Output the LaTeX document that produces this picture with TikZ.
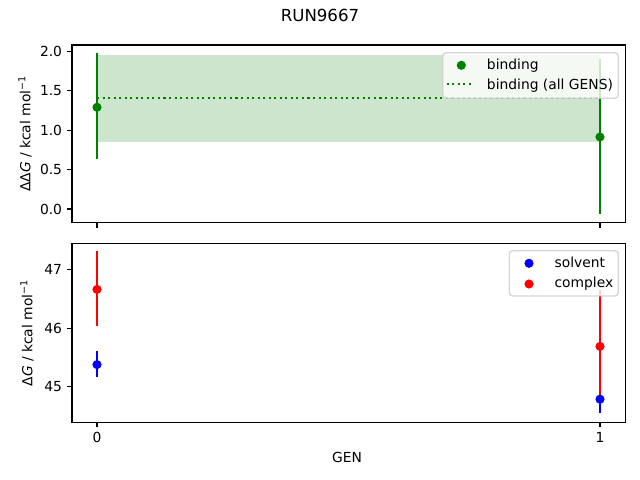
\documentclass[tikz,border=0pt]{standalone}
\usepackage{fontspec}
\setmainfont{DejaVu Sans}
\definecolor{mgreen}{HTML}{008000}
\definecolor{mblue}{HTML}{0000FF}
\definecolor{mred}{HTML}{FF0000}
\definecolor{legedge}{HTML}{CCCCCC}
\tikzset{
  spine/.style={line width=0.8pt, black},
  tickmark/.style={line width=0.8pt, black},
  ebar/.style={line width=1.5pt},
  dotmark/.style={circle, inner sep=0pt, minimum size=6.6pt, draw=none},
  ticklab/.style={inner sep=0pt},
  legframe/.style={rounded corners=2.5pt, fill=white, fill opacity=0.8, draw=legedge, draw opacity=0.8, line width=1pt},
  legtext/.style={anchor=base west, inner sep=0pt},
  dotline/.style={mgreen, line width=1.5pt, dash pattern=on 1.5pt off 2.5pt}
}
\begin{document}
\begin{tikzpicture}[x=0.01in,y=-0.01in, every node/.style={font=\fontsize{10}{12}\selectfont, text=black}]
\useasboundingbox (0,0) rectangle (640,480);
\fill[white] (0,0) rectangle (640,480);

% title
\node[anchor=base, inner sep=0pt, font=\fontsize{12}{14}\selectfont] (title) at (320,22) {RUN9667};

% ===== top panel =====
\fill[mgreen, opacity=0.2] (97,55) rectangle (600,141.7);
\coordinate (avgL) at (97,98);
\coordinate (avgR) at (600,98);
\draw[dotline] (avgL) -- (avgR);
\coordinate (g0t) at (97,53.3);
\coordinate (g0b) at (97,159.3);
\coordinate (g1t) at (600,59.3);
\coordinate (g1b) at (600,214);
\draw[ebar, mgreen] (g0t) -- (g0b);
\draw[ebar, mgreen] (g1t) -- (g1b);
\node[dotmark, fill=mgreen] (g0) at (97,107.3) {};
\node[dotmark, fill=mgreen] (g1) at (600,137) {};

\draw[spine] (72,45) rectangle (625.7,222.7);
\foreach \p/\t/\n in {51.5/2.0/a, 90.9/1.5/b, 130.3/1.0/c, 169.6/0.5/d, 209/0.0/e}{
  \draw[tickmark] (72,\p) -- (67.1,\p);
  \node[ticklab, anchor=east] (ty\n) at (62.3,\p) {\t};
}
\draw[tickmark] (97,222.7) -- (97,227.6);
\draw[tickmark] (600,222.7) -- (600,227.6);
\node[rotate=90] (ylabtop) at (25,133.8) {ΔΔ\textit{G} / kcal mol\textsuperscript{−1}};

% legend top
\draw[legframe] (442.7,52.7) rectangle (618.3,98.3);
\node[dotmark, fill=mgreen] (lgb) at (461.3,65.3) {};
\node[legtext] (ltb) at (486.7,69.6) {binding};
\coordinate (lgl) at (446.7,84.3);
\coordinate (lgr) at (474,84.3);
\draw[dotline] (lgl) -- (lgr);
\node[legtext] (lta) at (486.7,89.2) {binding (all GENS)};

% ===== bottom panel =====
\coordinate (c0t) at (97,251.2);
\coordinate (c0b) at (97,325.6);
\coordinate (s0t) at (97,351.1);
\coordinate (s0b) at (97,377.5);
\coordinate (c1t) at (600,289.9);
\coordinate (c1b) at (600,402.2);
\coordinate (s1t) at (600,385.7);
\coordinate (s1b) at (600,413.3);
\draw[ebar, mblue] (s0t) -- (s0b);
\draw[ebar, mred] (c0t) -- (c0b);
\draw[ebar, mblue] (s1t) -- (s1b);
\draw[ebar, mred] (c1t) -- (c1b);
\node[dotmark, fill=mblue] (s0) at (97,364.6) {};
\node[dotmark, fill=mblue] (s1) at (600,399.2) {};
\node[dotmark, fill=mred] (c0) at (97,289.4) {};
\node[dotmark, fill=mred] (c1) at (600,346.4) {};

\draw[spine] (72,243.3) rectangle (625.7,422.3);
\foreach \p/\t/\n in {269.4/47/a, 328.2/46/b, 386.9/45/c}{
  \draw[tickmark] (72,\p) -- (67.1,\p);
  \node[ticklab, anchor=east] (tz\n) at (62.3,\p) {\t};
}
\draw[tickmark] (97,422.3) -- (97,427.2);
\draw[tickmark] (600,422.3) -- (600,427.2);
\node[ticklab, anchor=north] (tx0) at (97,432.2) {0};
\node[ticklab, anchor=north] (tx1) at (600,432.2) {1};
\node[anchor=base, inner sep=0pt] (xlab) at (347,462.7) {GEN};
\node[rotate=90] (ylabbot) at (27,333) {Δ\textit{G} / kcal mol\textsuperscript{−1}};

% legend bottom
\draw[legframe] (509.3,250.7) rectangle (618.3,296);
\node[dotmark, fill=mblue] (lsv) at (529,263.3) {};
\node[legtext] (tsv) at (554.3,267.4) {solvent};
\node[dotmark, fill=mred] (lcx) at (529,284) {};
\node[legtext] (tcx) at (554.3,287.8) {complex};
\end{tikzpicture}
\end{document}
